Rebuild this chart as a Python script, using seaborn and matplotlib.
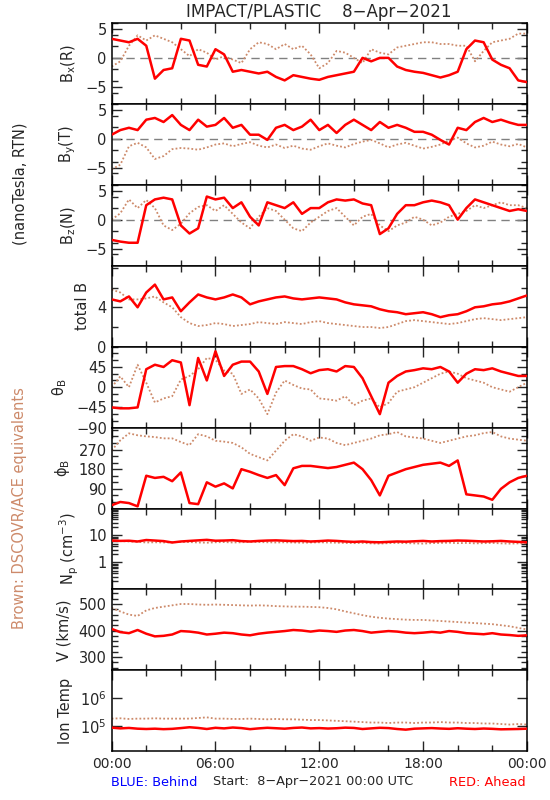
import numpy as np
import matplotlib
matplotlib.use('Agg')
import matplotlib.pyplot as plt
import seaborn as sns
from matplotlib.ticker import MultipleLocator, FixedLocator, NullFormatter, LogLocator

# time grid of the read-off samples (hours after 8-Apr-2021 00:00 UTC)
hours = np.arange(0, 24.5, 0.5)

# STEREO-A (red, "Ahead") and DSCOVR/ACE (brown) values
bx_red = [3.3, 3.0, 2.7, 3.3, 2.1, -3.6, -2.1, -1.8, 3.3, 3.0,
          -1.2, -1.5, 1.5, 0.6, -2.4, -2.1, -2.4, -2.7, -2.4, -3.3,
          -3.9, -3.0, -3.3, -3.6, -3.8, -3.3, -3.0, -2.7, -2.4, 0.0,
          -0.6, 0.0, 0.0, -1.5, -2.1, -2.4, -2.6, -3.0, -3.4, -3.0,
          -2.4, 1.5, 3.0, 2.7, -0.3, -1.2, -1.8, -3.9, -4.2]
bx_brown = [-1.5, -0.6, 2.1, 3.9, 3.0, 3.9, 3.3, 2.7, 1.5, 0.3,
            1.5, 0.9, -0.3, 0.3, -0.3, -0.9, 1.5, 2.7, 2.4, 1.5,
            2.4, 1.5, 2.1, 0.6, -1.8, -0.9, 1.2, 0.9, 0.0, -0.9,
            1.5, 0.9, 0.6, 1.8, 2.1, 2.4, 2.7, 2.7, 2.4, 2.4,
            2.1, 2.1, -0.6, 1.2, 2.7, 3.0, 3.3, 4.2, 4.2]

by_red = [0.7, 1.5, 1.9, 1.5, 3.3, 3.6, 2.9, 4.1, 2.4, 1.5,
          3.3, 2.1, 2.4, 3.6, 1.9, 2.4, 0.7, 0.7, -0.2, 1.9,
          2.4, 1.5, 2.1, 3.3, 1.5, 2.4, 1.0, 2.4, 3.3, 2.4,
          1.5, 2.9, 1.9, 2.4, 1.9, 1.2, 1.2, 0.7, -0.2, -1.0,
          1.9, 1.5, 2.9, 3.6, 2.9, 3.3, 2.8, 2.4, 2.4]
by_brown = [-5.3, -4.5, -1.3, -0.7, -1.5, -3.5, -3.0, -1.8, -1.6, -1.7,
            -1.9, -1.5, -1.0, -0.8, -1.3, -0.9, -0.6, -1.2, -1.5, -1.0,
            -1.6, -1.2, -1.7, -1.9, -1.3, -0.8, -1.2, -1.5, -0.9, -0.5,
            -0.2, -0.8, -1.5, -1.0, -0.7, -1.2, -1.7, -1.4, -1.0, -0.3,
            0.2, -0.8, -1.5, -1.2, -0.5, -1.0, -1.3, -0.9, -1.5]

bz_red = [-3.5, -3.8, -4.0, -4.0, 2.5, 3.5, 3.8, 3.5, -1.0, -2.4,
          -1.5, 4.0, 3.5, 3.8, 2.0, 3.0, 0.5, -1.0, 3.0, 2.5,
          2.0, 3.0, 1.0, 2.0, 2.0, 3.0, 3.5, 3.3, 3.5, 2.8,
          2.5, -2.5, -1.5, 1.0, 2.5, 2.5, 3.0, 3.3, 3.0, 2.5,
          0.0, 2.0, 3.5, 3.0, 2.5, 2.0, 1.5, 1.8, 1.5]
bz_brown = [0.0, 1.1, 3.5, 2.0, 3.4, 2.0, -1.0, -1.8, -0.7, 1.1,
            2.2, 2.5, 1.5, 2.5, 1.0, -0.5, -1.5, 0.5, 2.0, 1.5,
            0.0, -1.5, -2.0, -0.5, 0.5, 1.5, 2.0, 0.5, -1.0, 0.5,
            1.0, -1.0, -2.0, -1.0, -0.5, 0.5, 0.0, -1.0, -0.5, 0.5,
            1.0, 1.5, 2.5, 2.0, 2.5, 3.0, 2.5, 2.5, 2.0]

btot_red = [4.8, 4.6, 5.1, 4.0, 5.5, 6.3, 4.8, 5.0, 3.6, 4.5,
            5.3, 5.0, 4.8, 5.0, 5.3, 5.0, 4.3, 4.6, 4.8, 5.0,
            5.1, 4.9, 4.8, 4.9, 5.0, 4.9, 4.8, 4.5, 4.3, 4.2,
            4.1, 3.8, 3.6, 3.5, 3.3, 3.4, 3.5, 3.3, 3.0, 3.2,
            3.3, 3.6, 4.0, 4.1, 4.3, 4.4, 4.6, 4.9, 5.2]
btot_brown = [5.8, 5.5, 4.8, 4.8, 4.9, 5.1, 4.5, 4.0, 3.0, 2.4,
              2.1, 2.2, 2.4, 2.3, 2.1, 2.2, 2.3, 2.5, 2.4, 2.3,
              2.5, 2.4, 2.3, 2.5, 2.6, 2.4, 2.3, 2.2, 2.1, 2.0,
              2.0, 1.9, 2.0, 2.3, 2.6, 2.7, 2.6, 2.5, 2.4, 2.3,
              2.4, 2.6, 2.8, 2.9, 2.8, 2.7, 2.8, 2.9, 3.0]

theta_red = [-45, -47, -47, -45, 40, 50, 45, 60, 55, -40,
             65, 15, 80, 25, 50, 57, 57, 35, -15, 45,
             47, 47, 40, 31, 38, 40, 35, 47, 45, 20,
             -20, -60, 10, 25, 35, 38, 42, 40, 45, 35,
             10, 30, 40, 38, 42, 35, 30, 25, 25]
theta_brown = [0, 24, 0, 50, 10, -34, -25, -20, 17, 25,
               40, 65, 61, 37, 30, -15, -5, -25, -60, -12,
               15, 5, -3, -5, -25, -27, -30, -20, -40, -30,
               -25, -45, -35, -10, -5, 0, 10, 20, 30, 35,
               30, 20, 15, 10, 0, -5, -10, 0, 10]

phi_red = [15, 30, 25, 10, 150, 140, 145, 125, 165, 25,
           20, 120, 100, 115, 92, 180, 168, 153, 140, 153,
           107, 184, 195, 195, 190, 185, 190, 200, 210, 180,
           130, 60, 150, 165, 180, 190, 200, 205, 210, 195,
           220, 65, 60, 55, 40, 90, 120, 140, 150]
phi_brown = [266, 312, 344, 335, 330, 327, 321, 321, 304, 290,
             340, 330, 310, 306, 300, 280, 250, 235, 220, 265,
             310, 340, 330, 310, 325, 320, 300, 290, 300, 310,
             320, 335, 340, 350, 330, 325, 320, 310, 300, 310,
             320, 330, 335, 345, 350, 330, 320, 315, 310]

np_red = [6.5, 6.3, 6.4, 6.0, 6.8, 6.5, 6.2, 5.5, 6.0, 6.3,
          6.6, 6.9, 6.4, 6.5, 6.7, 6.2, 6.0, 6.3, 6.5, 6.6,
          6.4, 6.2, 6.3, 6.0, 6.2, 6.5, 6.3, 6.0, 5.8, 6.0,
          5.7, 5.6, 5.8, 6.0, 5.9, 6.1, 6.3, 6.0, 6.2, 6.3,
          6.5, 6.4, 6.2, 6.0, 6.1, 6.3, 6.0, 5.8, 5.6]
np_brown = [6.0, 6.2, 6.0, 5.8, 5.5, 5.6, 5.5, 5.6, 5.8, 5.7,
            5.5, 5.4, 5.6, 5.7, 5.5, 5.6, 5.8, 5.7, 5.6, 5.5,
            5.6, 5.5, 5.4, 5.5, 5.6, 5.5, 5.4, 5.3, 5.2, 5.3,
            5.1, 5.0, 5.2, 5.3, 5.2, 5.1, 5.0, 5.2, 5.3, 5.4,
            5.2, 5.3, 5.1, 5.2, 5.3, 5.1, 5.0, 5.1, 5.2]

v_red = [406, 394, 390, 402, 388, 378, 380, 385, 398, 396,
         392, 385, 388, 392, 390, 385, 382, 388, 392, 395,
         398, 402, 400, 396, 400, 398, 395, 400, 402, 398,
         392, 395, 398, 396, 392, 390, 392, 395, 392, 398,
         395, 390, 388, 386, 390, 385, 383, 380, 382]
v_brown = [485, 472, 460, 455, 476, 485, 490, 495, 500, 500,
           498, 497, 498, 497, 496, 495, 494, 495, 494, 492,
           491, 490, 490, 489, 488, 485, 480, 472, 465, 458,
           452, 448, 445, 443, 441, 440, 440, 438, 436, 434,
           432, 430, 428, 426, 424, 420, 416, 410, 404]

temp_red = [8.5e4, 8.0e4, 8.3e4, 7.8e4, 7.6e4, 7.8e4, 7.5e4, 7.7e4, 8.2e4, 8.8e4,
            8.3e4, 7.6e4, 8.4e4, 8.0e4, 8.6e4, 8.2e4, 7.5e4, 8.0e4, 8.4e4, 8.1e4,
            7.8e4, 8.3e4, 8.6e4, 8.0e4, 8.2e4, 7.9e4, 8.1e4, 8.5e4, 8.3e4, 7.6e4,
            8.0e4, 8.4e4, 8.2e4, 7.6e4, 7.2e4, 7.8e4, 8.0e4, 8.2e4, 7.9e4, 7.7e4,
            8.1e4, 7.8e4, 7.6e4, 7.9e4, 7.7e4, 7.4e4, 7.5e4, 7.6e4, 7.8e4]
temp_brown = [1.8e5, 1.85e5, 1.75e5, 1.8e5, 1.8e5, 1.85e5, 1.8e5, 1.8e5, 1.8e5, 1.8e5,
              1.9e5, 2.0e5, 1.8e5, 1.8e5, 1.75e5, 1.75e5, 1.8e5, 1.75e5, 1.7e5, 1.75e5,
              1.7e5, 1.7e5, 1.65e5, 1.6e5, 1.6e5, 1.55e5, 1.5e5, 1.45e5, 1.4e5, 1.35e5,
              1.3e5, 1.3e5, 1.25e5, 1.3e5, 1.3e5, 1.25e5, 1.3e5, 1.3e5, 1.35e5, 1.3e5,
              1.3e5, 1.25e5, 1.25e5, 1.2e5, 1.2e5, 1.15e5, 1.1e5, 1.15e5, 1.1e5]

time_labels = ['00:00', '06:00', '12:00', '18:00', '00:00']

RED = '#ff0000'
BROWN = '#cd8a6a'

sns.set_style('ticks')
plt.rcParams['font.family'] = ['DejaVu Sans']
plt.rcParams['font.size'] = 10.5
plt.rcParams['axes.linewidth'] = 1.1
plt.rcParams['mathtext.default'] = 'regular'

panels = [
    (r'B$_x$(R)', bx_red, bx_brown, (-8, 6), [-5, 0, 5], 2, False, True),
    (r'B$_y$(T)', by_red, by_brown, (-8, 6), [-5, 0, 5], 2, False, True),
    (r'B$_z$(N)', bz_red, bz_brown, (-8, 6), [-5, 0, 5], 2, False, True),
    ('total B', btot_red, btot_brown, (0, 8.2), [0, 4], 2, False, False),
    (r'$\theta_B$', theta_red, theta_brown, (-90, 90), [-90, -45, 0, 45], 15, False, False),
    (r'$\phi_B$', phi_red, phi_brown, (0, 370), [0, 90, 180, 270], 30, False, False),
    (r'N$_p$ (cm$^{-3}$)', np_red, np_brown, (0.1, 100), [1, 10], None, True, False),
    ('V (km/s)', v_red, v_brown, (250, 555), [300, 400, 500], 20, False, False),
    ('Ion Temp', temp_red, temp_brown, (1.2e4, 1e7), [1e5, 1e6], None, True, False),
]

fig, axes = plt.subplots(9, 1, figsize=(5.5, 8), dpi=100, sharex=True)
fig.subplots_adjust(left=0.203, right=0.958, top=0.971, bottom=0.061, hspace=0)

for ax, (label, red, brown, ylim, majors, minor, logy, zero) in zip(axes, panels):
    if zero:
        ax.axhline(0, color='#808080', lw=1.0, ls=(0, (6, 4)), zorder=1)
    sns.lineplot(x=hours, y=brown, ax=ax, color=BROWN, lw=1.3,
                 linestyle=(0, (1, 1.2)), zorder=2)
    sns.lineplot(x=hours, y=red, ax=ax, color=RED, lw=1.8, zorder=3)
    if logy:
        ax.set_yscale('log')
        ax.yaxis.set_minor_locator(LogLocator(base=10, subs=np.arange(2, 10)))
        ax.yaxis.set_minor_formatter(NullFormatter())
    ax.set_ylim(*ylim)
    ax.yaxis.set_major_locator(FixedLocator(majors))
    if label == 'Ion Temp':
        ax.set_yticklabels([r'10$^5$', r'10$^6$'])
        ax.yaxis.set_minor_locator(FixedLocator([]))
    elif label.startswith('N$_p$'):
        ax.set_yticklabels(['1', '10'])
    else:
        ax.set_yticklabels([str(m).replace('-', '\u2212') for m in majors])
    if minor is not None:
        ax.yaxis.set_minor_locator(MultipleLocator(minor))
    ax.set_ylabel(label, labelpad=5)
    ax.tick_params(which='both', direction='in', top=True, right=True, width=1)
    ax.tick_params(which='major', length=7)
    ax.tick_params(which='minor', length=4)
    for s in ax.spines.values():
        s.set_color('black')

ax = axes[-1]
ax.set_xlim(0, 24)
ax.set_xticks([0, 6, 12, 18, 24])
ax.set_xticklabels(time_labels)
ax.xaxis.set_minor_locator(MultipleLocator(2))
ax.tick_params(axis='x', which='major', pad=4, labelsize=10)
ax.set_xlabel('')

fig.text(319 / 550, 1 - 12 / 800, 'IMPACT/PLASTIC    8\u2212Apr\u22122021',
         ha='center', va='center', fontsize=12)
fig.text(20 / 550, 1 - 184 / 800, '(nanoTesla, RTN)', rotation=90,
         ha='center', va='center')
fig.text(20 / 550, 1 - 508 / 800, 'Brown: DSCOVR/ACE equivalents', rotation=90,
         ha='center', va='center', color=BROWN)
fig.text(111 / 550, 1 - 782 / 800, 'BLUE: Behind', color='#0000ff',
         ha='left', va='center', fontsize=9.3)
fig.text(313 / 550, 1 - 782 / 800, 'Start:  8\u2212Apr\u22122021 00:00 UTC',
         ha='center', va='center', fontsize=9.3)
fig.text(526 / 550, 1 - 782 / 800, 'RED: Ahead', color=RED,
         ha='right', va='center', fontsize=9.3)

fig.savefig('out.png', dpi=100)
